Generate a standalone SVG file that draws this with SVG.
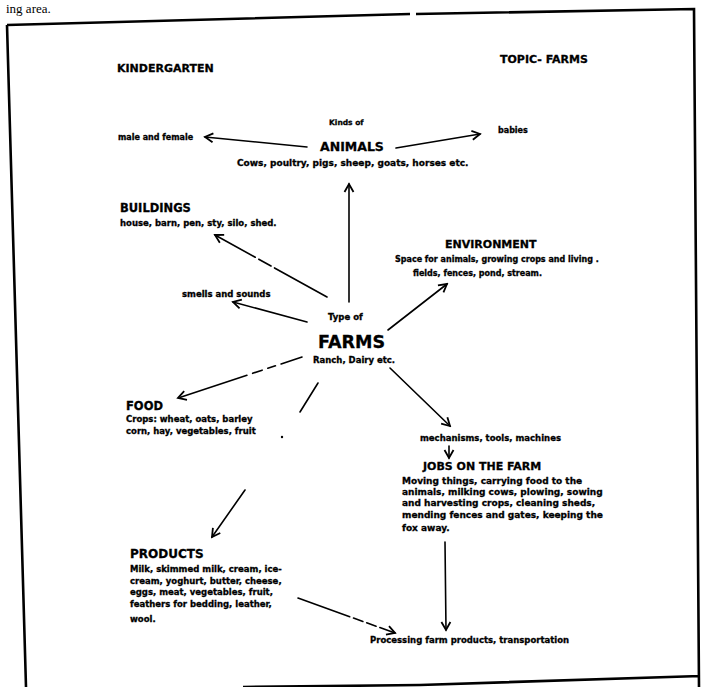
<svg xmlns="http://www.w3.org/2000/svg" width="703" height="687" viewBox="0 0 703 687">
<style>
text{font-family:"DejaVu Sans","Liberation Sans",sans-serif;font-weight:bold;fill:#000;stroke:#000;stroke-width:0.3}
.h{font-size:11px}
.s{font-size:8.5px}
.j{font-size:9px}
.t{font-size:8px}
.c{stroke:#000;stroke-width:1.6;fill:none;stroke-linecap:round}
.b{stroke:#000;stroke-width:2.6;fill:none}
</style>
<defs>
<marker id="ah" viewBox="-10 -6 12 12" markerWidth="12" markerHeight="12" markerUnits="userSpaceOnUse" refX="0" refY="0" orient="auto">
<path d="M-8,-4.5 L0,0 L-8,4.5" stroke="#000" stroke-width="1.8" fill="none"/>
</marker>
</defs>
<rect width="703" height="687" fill="#fff"/>
<g id="page">
<text x="6" y="13" style="font-family:'Liberation Serif',serif;font-weight:normal;font-size:13px;stroke:none">ing area.</text>
<path class="b" d="M7,25 L410,14 M416,14 L694,9 L699,687 M7,25 L26,687 M243,687 L420,685 L700,676"/>
</g>
<g id="connectors">
<line class="c" x1="307" y1="147" x2="205" y2="137" marker-end="url(#ah)"/>
<line class="c" x1="396" y1="148" x2="480" y2="134" marker-end="url(#ah)"/>
<line class="c" x1="349" y1="302" x2="349" y2="184" marker-end="url(#ah)"/>
<line class="c" x1="327" y1="297" x2="215" y2="235" stroke-dasharray="60,4,14,4,60" marker-end="url(#ah)"/>
<line class="c" x1="307" y1="322" x2="233" y2="302" marker-end="url(#ah)"/>
<line class="c" x1="388" y1="330" x2="447" y2="284" marker-end="url(#ah)"/>
<line class="c" x1="302" y1="357" x2="178" y2="398" stroke-dasharray="22,6,8,6,10,6,70" marker-end="url(#ah)"/>
<line class="c" x1="390" y1="368" x2="450" y2="426" marker-end="url(#ah)"/>
<line class="c" x1="318" y1="383" x2="300" y2="412"/>
<circle cx="282" cy="437" r="1.2" fill="#000"/>
<line class="c" x1="245" y1="490" x2="212" y2="537" marker-end="url(#ah)"/>
<line class="c" x1="449" y1="446" x2="449" y2="458" marker-end="url(#ah)"/>
<line class="c" x1="445" y1="542" x2="446" y2="630" marker-end="url(#ah)"/>
<line class="c" x1="298" y1="598" x2="395" y2="633" stroke-dasharray="55,4,10,4,10,4,40" marker-end="url(#ah)"/>
</g>
<g id="header">
<text class="h" x="117" y="72">KINDERGARTEN</text>
<text class="h" x="500" y="63">TOPIC- FARMS</text>
</g>
<g id="animals">
<text x="329" y="125" style="font-size:7.5px">Kinds of</text>
<text x="320" y="151" style="font-size:12.5px">ANIMALS</text>
<text class="j" x="237" y="166">Cows, poultry, pigs, sheep, goats, horses etc.</text>
</g>
<g id="male-female"><text class="t" x="118" y="140">male and female</text></g>
<g id="babies"><text class="t" x="498" y="133">babies</text></g>
<g id="buildings">
<text x="120" y="212" style="font-size:11.5px">BUILDINGS</text>
<text class="s" x="120" y="226">house, barn, pen, sty, silo, shed.</text>
</g>
<g id="smells"><text class="s" x="182" y="297">smells and sounds</text></g>
<g id="environment">
<text class="h" x="445" y="248">ENVIRONMENT</text>
<text class="t" x="395" y="262">Space for animals, growing crops and living .</text>
<text class="t" x="413" y="276">fields, fences, pond, stream.</text>
</g>
<g id="farms">
<text class="s" x="328" y="320">Type of</text>
<text x="318" y="348" style="font-size:17.5px">FARMS</text>
<text class="s" x="313" y="363">Ranch, Dairy etc.</text>
</g>
<g id="food">
<text x="126" y="410" style="font-size:11.5px">FOOD</text>
<text class="s" x="126" y="422">Crops: wheat, oats, barley</text>
<text class="s" x="126" y="434">corn, hay, vegetables, fruit</text>
</g>
<g id="mechanisms"><text class="s" x="420" y="441">mechanisms, tools, machines</text></g>
<g id="jobs">
<text class="h" x="423" y="470">JOBS ON THE FARM</text>
<text class="j" x="402" y="484">Moving things, carrying food to the</text>
<text class="j" x="402" y="495">animals, milking cows, plowing, sowing</text>
<text class="j" x="402" y="506">and harvesting crops, cleaning sheds,</text>
<text class="j" x="402" y="518">mending fences and gates, keeping the</text>
<text class="j" x="402" y="531">fox away.</text>
</g>
<g id="products">
<text x="130" y="558" style="font-size:12px">PRODUCTS</text>
<text class="s" x="130" y="572">Milk, skimmed milk, cream, ice-</text>
<text class="s" x="130" y="584">cream, yoghurt, butter, cheese,</text>
<text class="s" x="130" y="595">eggs, meat, vegetables, fruit,</text>
<text class="s" x="130" y="607">feathers for bedding, leather,</text>
<text class="s" x="130" y="622">wool.</text>
</g>
<g id="processing"><text class="s" x="370" y="643">Processing farm products, transportation</text></g>
</svg>
